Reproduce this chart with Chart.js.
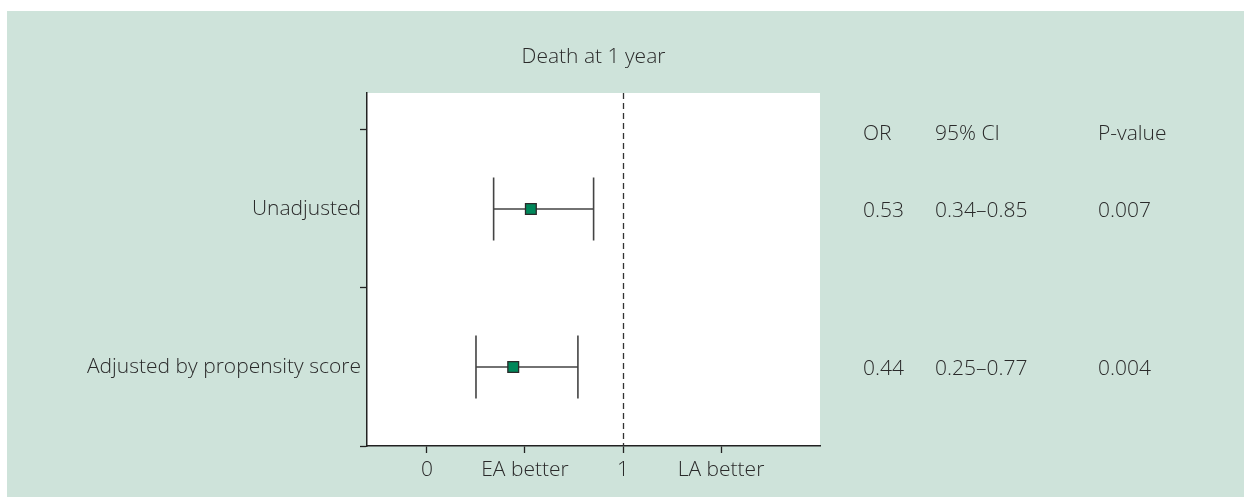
<!DOCTYPE html>
<html>
<head>
<meta charset="utf-8">
<script src="https://cdn.jsdelivr.net/npm/chart.js@4.4.1/dist/chart.umd.min.js"></script>
<style>
html,body{margin:0;padding:0;background:#fff;}
#wrap{position:absolute;left:0;top:0;width:1244px;height:497px;}
</style>
</head>
<body>
<div id="wrap"><canvas id="c" width="1244" height="497"></canvas></div>
<script>
// ---- data ----
const categories = ['Unadjusted', 'Adjusted by propensity score'];
const oddsRatio = [0.53, 0.44];
const ciLow = [0.34, 0.25];
const ciHigh = [0.85, 0.77];
const orText = ['0.53', '0.44'];
const ciText = ['0.34\u20130.85', '0.25\u20130.77'];
const pText = ['0.007', '0.004'];
const tableHeaders = ['OR', '95% CI', 'P-value'];
const xTickValues = [0, 0.5, 1, 1.5];
const xTickLabels = ['0', 'EA better', '1', 'LA better'];
const titleText = 'Death at 1 year';
const refValue = 1;

const FONT = '"Open Sans", "DejaVu Sans", sans-serif';
const FSIZE = 21;
const TXT = '#2a2a2a';
const AX = '#222222';

const rowPos = categories.map((c, i) => categories.length - i - 0.5);

const bgPlugin = {
  id: 'bg',
  beforeDraw(chart) {
    const ctx = chart.ctx, a = chart.chartArea;
    ctx.save();
    ctx.fillStyle = '#ffffff';
    ctx.fillRect(0, 0, chart.width, chart.height);
    ctx.fillStyle = '#cee3da';
    ctx.fillRect(7, 11, chart.width - 7, chart.height - 11);
    ctx.fillStyle = '#ffffff';
    ctx.fillRect(a.left, a.top, a.right - a.left, a.bottom - a.top);
    ctx.restore();
  }
};

const forestPlugin = {
  id: 'forest',
  beforeDatasetsDraw(chart) {
    const ctx = chart.ctx, xs = chart.scales.x, ys = chart.scales.y, a = chart.chartArea;
    ctx.save();
    const rx = Math.round(xs.getPixelForValue(refValue)) + 0.5;
    ctx.strokeStyle = '#333';
    ctx.lineWidth = 1.3;
    ctx.setLineDash([6, 4]);
    ctx.beginPath();
    ctx.moveTo(rx, a.top);
    ctx.lineTo(rx, a.bottom);
    ctx.stroke();
    ctx.setLineDash([]);
    ctx.strokeStyle = '#444';
    ctx.lineWidth = 1.6;
    categories.forEach((c, i) => {
      const y = ys.getPixelForValue(rowPos[i]);
      const capH = Math.abs(ys.getPixelForValue(rowPos[i] + 0.2) - y);
      const x1 = xs.getPixelForValue(ciLow[i]);
      const x2 = xs.getPixelForValue(ciHigh[i]);
      ctx.beginPath();
      ctx.moveTo(x1, y); ctx.lineTo(x2, y);
      ctx.moveTo(x1, y - capH); ctx.lineTo(x1, y + capH);
      ctx.moveTo(x2, y - capH); ctx.lineTo(x2, y + capH);
      ctx.stroke();
    });
    ctx.restore();
  },
  afterDraw(chart) {
    const ctx = chart.ctx, ys = chart.scales.y, a = chart.chartArea;
    ctx.save();
    ctx.fillStyle = TXT;
    ctx.font = '300 ' + FSIZE + 'px ' + FONT;
    ctx.textBaseline = 'middle';
    ctx.textAlign = 'center';
    ctx.fillText(titleText, (a.left + a.right) / 2, 57);
    ctx.textAlign = 'left';
    const cols = [863, 935, 1098];
    const hy = ys.getPixelForValue(categories.length) + 4;
    tableHeaders.forEach((h, j) => ctx.fillText(h, cols[j], hy));
    categories.forEach((c, i) => {
      const y = ys.getPixelForValue(rowPos[i]) + 2;
      ctx.fillText(orText[i], cols[0], y);
      ctx.fillText(ciText[i], cols[1], y);
      ctx.fillText(pText[i], cols[2], y);
    });
    ctx.restore();
  }
};

new Chart(document.getElementById('c'), {
  type: 'scatter',
  data: {
    datasets: [{
      data: categories.map((c, i) => ({ x: oddsRatio[i], y: rowPos[i] })),
      pointStyle: 'rect',
      pointRadius: 7.6,
      pointBackgroundColor: '#00875a',
      pointBorderColor: '#2a2a2a',
      pointBorderWidth: 1.3,
      showLine: false
    }]
  },
  options: {
    responsive: false,
    animation: false,
    events: [],
    layout: { padding: { top: 93, right: 424, left: 0, bottom: 0 } },
    plugins: { legend: { display: false }, tooltip: { enabled: false }, title: { display: false } },
    scales: {
      x: {
        type: 'linear',
        min: -0.306,
        max: 2.005,
        afterFit(s) { s.height = 51; },
        afterBuildTicks(s) { s.ticks = xTickValues.map(v => ({ value: v })); },
        grid: { drawOnChartArea: false, tickLength: 7, tickColor: AX, tickWidth: 1.3 },
        border: { color: AX, width: 1.5 },
        ticks: {
          padding: 4,
          color: TXT,
          font: { family: FONT, size: FSIZE, weight: 300 },
          maxRotation: 0,
          callback(v) { const k = xTickValues.indexOf(v); return k >= 0 ? xTickLabels[k] : ''; }
        }
      },
      y: {
        type: 'linear',
        min: 0,
        max: 2.234,
        afterFit(s) { s.width = 367; },
        afterBuildTicks(s) { s.ticks = [0, 0.5, 1, 1.5, 2].map(v => ({ value: v })); },
        grid: {
          drawOnChartArea: false,
          tickLength: 7,
          tickWidth: 1.3,
          tickColor(ctx) { return Number.isInteger(ctx.tick.value) ? AX : 'rgba(0,0,0,0)'; }
        },
        border: { color: AX, width: 1.5 },
        ticks: {
          padding: -1,
          color: TXT,
          font: { family: FONT, size: FSIZE, weight: 300 },
          callback(v) {
            const i = rowPos.indexOf(v);
            return i >= 0 ? categories[i] : '';
          }
        }
      }
    }
  },
  plugins: [bgPlugin, forestPlugin]
});
</script>
</body>
</html>
